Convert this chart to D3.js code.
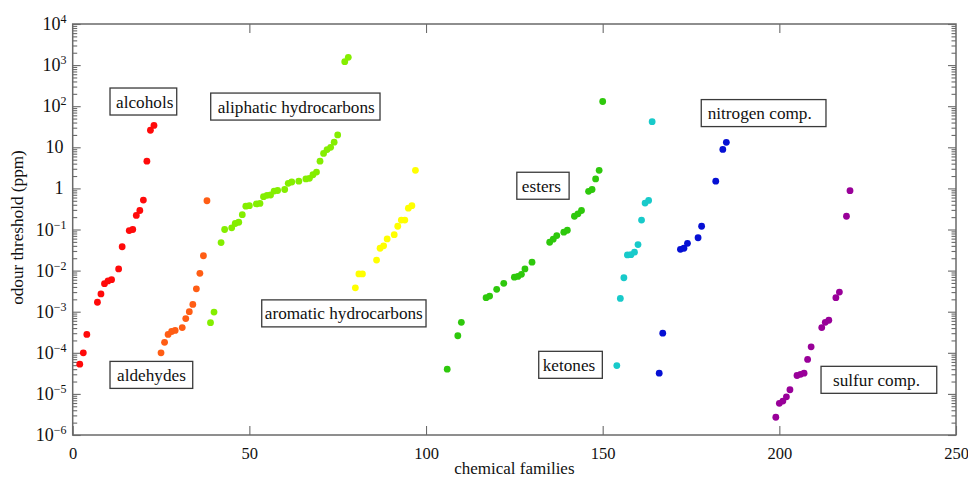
<!DOCTYPE html>
<html><head><meta charset="utf-8">
<script src="https://cdn.jsdelivr.net/npm/d3@7"></script>
<style>
body{margin:0;background:#fff}
svg{display:block}
text{font-family:"Liberation Serif","Times New Roman",Times,serif;fill:#111}
</style>
</head><body>
<svg id="chart" width="968" height="479"></svg>
<script>
// ---- data: [chemical family index, odour threshold (ppm)] ----
const alcohols = [[2,5.3e-5],[3,1.0e-4],[4,2.8e-4],[7,1.7e-3],[8,2.7e-3],[9,4.8e-3],[10,5.6e-3],[11,6.0e-3],[13,1.1e-2],[14,3.8e-2],[16,0.094],[17,0.10],[18,0.22],[19,0.29],[20,0.52],[21,4.6],[22,26],[23,34]];
const aldehydes = [[25,1.0e-4],[26,1.8e-4],[27,2.8e-4],[28,3.3e-4],[29,3.5e-4],[31,4.1e-4],[32,6.8e-4],[33,1.0e-3],[34,1.5e-3],[35,3.6e-3],[36,8.6e-3],[37,2.3e-2],[38,0.50]];
const aliphatic = [[39,5.4e-4],[40,9.8e-4],[42,0.048],[43,0.10],[45,0.11],[46,0.14],[47,0.15],[48,0.23],[49,0.37],[50,0.38],[52,0.42],[53,0.43],[54,0.63],[55,0.68],[56,0.69],[57,0.86],[58,0.89],[60,0.94],[61,1.33],[62,1.43],[64,1.5],[66,1.7],[67,1.76],[68,2.15],[69,2.5],[70,4.6],[71,7.1],[72,8.8],[73,10],[74,13.3],[75,20],[77,1210],[78,1550]];
const aromatic = [[80,3.8e-3],[81,8.3e-3],[82,8.3e-3],[86,0.018],[87,0.035],[88,0.040],[89,0.059],[91,0.075],[92,0.12],[93,0.17],[94,0.17],[95,0.33],[96,0.38],[97,2.75]];
const esters = [[106,4.0e-5],[109,2.6e-4],[110,5.5e-4],[117,2.2e-3],[118,2.4e-3],[120,3.5e-3],[122,4.9e-3],[125,6.9e-3],[126,7.2e-3],[127,8.1e-3],[128,0.011],[130,0.016],[135,0.049],[136,0.058],[137,0.071],[139,0.086],[140,0.096],[142,0.21],[143,0.24],[144,0.29],[146,0.85],[147,0.94],[148,1.7],[149,2.75],[150,130]];
const ketones = [[154,4.9e-5],[155,2.1e-3],[156,6.7e-3],[157,0.024],[158,0.0244],[159,0.028],[160,0.043],[161,0.17],[162,0.44],[163,0.51],[164,42]];
const nitrogen = [[166,3.2e-5],[167,3.0e-4],[172,0.033],[173,0.035],[174,0.046],[177,0.063],[178,0.12],[182,1.5],[184,8.9],[185,13.2]];
const sulfur = [[199,2.7e-6],[200,5.9e-6],[201,6.7e-6],[202,8.5e-6],[203,1.26e-5],[205,2.8e-5],[206,3.0e-5],[207,3.2e-5],[208,6.9e-5],[209,1.4e-4],[212,4.1e-4],[213,5.5e-4],[214,6.2e-4],[216,2.2e-3],[217,3.0e-3],[219,0.21],[220,0.88]];

const familyNames = ["alcohols","aldehydes","aliphatic hydrocarbons","aromatic hydrocarbons","esters","ketones","nitrogen comp.","sulfur comp."];
const familySeries = [alcohols, aldehydes, aliphatic, aromatic, esters, ketones, nitrogen, sulfur];
const familyColors = ["#ff0a0a","#ff5d14","#84ee00","#ffff00","#2ec80c","#18caca","#0610d4","#990099"];

// annotation boxes, in data space: text centre x, centre y, box x0, box x1
const labelTextX = [20.38,22.3,63.26,76.73,132.66,140.47,194.45,227.5];
const labelY     = [130,2.9e-5,98,9.1e-4,1.16,5.1e-5,68,2.2e-5];
const labelBoxX0 = [10.56,10.56,39.06,53.5,125.7,131.9,177.9,211.8];
const labelBoxX1 = [29.44,33.97,86.98,100.0,140.5,149.9,213.2,244.55];

const xTickValues = [0,50,100,150,200,250];
const yTickExponents = [-6,-5,-4,-3,-2,-1,0,1,2,3,4];
const xTitle = "chemical families";
const yTitle = "odour threshold (ppm)";

// ---- drawing ----
const svg = d3.select("#chart");
const L = 72.7, R = 956, T = 24, B = 435;
const x = d3.scaleLinear().domain([0,250]).range([L,R]);
const y = d3.scaleLog().domain([1e-6,1e4]).range([B,T]);
const axisColor = "#6a6a6a";

const majorVals = yTickExponents.map(e => Math.pow(10,e));
const minorVals = [];
yTickExponents.slice(0,-1).forEach(e => { for (let k=2;k<=9;k++) minorVals.push(k*Math.pow(10,e)); });

function styleAxis(g){
  g.select(".domain").remove();
  g.selectAll("line").attr("stroke",axisColor).attr("stroke-width",1.1);
}

// frame
svg.append("rect").attr("x",L).attr("y",T).attr("width",R-L).attr("height",B-T)
  .attr("fill","none").attr("stroke",axisColor).attr("stroke-width",1.5);

// x axes
const xb = svg.append("g").attr("transform",`translate(0,${B})`)
  .call(d3.axisBottom(x).tickValues(xTickValues).tickSize(-9).tickPadding(12).tickFormat(d3.format("d")));
styleAxis(xb);
xb.selectAll("text").attr("font-size",16.5).attr("fill","#111")
  .attr("font-family",'"Liberation Serif","Times New Roman",serif');
const xt = svg.append("g").attr("transform",`translate(0,${T})`)
  .call(d3.axisTop(x).tickValues(xTickValues.slice(1,-1)).tickSize(-9).tickFormat(""));
styleAxis(xt);

// y axes (major + minor, both sides, inward)
[[d3.axisLeft, L],[d3.axisRight, R]].forEach(([ax,pos]) => {
  const gM = svg.append("g").attr("transform",`translate(${pos},0)`)
    .call(ax(y).tickValues(majorVals).tickSize(-8).tickFormat(""));
  styleAxis(gM);
  const gm = svg.append("g").attr("transform",`translate(${pos},0)`)
    .call(ax(y).tickValues(minorVals).tickSize(-4.5).tickFormat(""));
  styleAxis(gm);
});

// y tick labels with superscripts
const yl = svg.append("g");
yTickExponents.forEach(e => {
  const ty = y(Math.pow(10,e));
  const t = yl.append("text").attr("text-anchor","end").attr("font-size",18)
    .attr("y", ty + 6);
  if (e === 0) { t.attr("x",63.5).text("1"); }
  else if (e === 1) { t.attr("x",63.5).text("10"); }
  else {
    t.attr("x",66.5);
    t.append("tspan").text("10");
    t.append("tspan").attr("font-size",12).attr("dy",-7).text(e < 0 ? "\u2212" + Math.abs(e) : String(e));
  }
});

// titles
svg.append("text").attr("x",(L+R)/2).attr("y",474).attr("text-anchor","middle")
  .attr("font-size",17).text(xTitle);
svg.append("text").attr("transform",`translate(23,${(T+B)/2 - 2}) rotate(-90)`)
  .attr("text-anchor","middle").attr("font-size",17.2).text(yTitle);

// points
const pts = svg.append("g");
familySeries.forEach((series,i) => {
  pts.selectAll(null).data(series).enter().append("circle")
    .attr("cx", d => x(d[0])).attr("cy", d => y(d[1])).attr("r",3.4)
    .attr("fill", familyColors[i]);
});

// annotation boxes
const ann = svg.append("g");
familyNames.forEach((name,i) => {
  const cy = y(labelY[i]);
  const x0 = x(labelBoxX0[i]), x1 = x(labelBoxX1[i]);
  ann.append("rect").attr("x",x0).attr("y",cy-13.5).attr("width",x1-x0).attr("height",27)
    .attr("fill","#fff").attr("stroke","#3a3a3a").attr("stroke-width",1.3);
  ann.append("text").attr("x",x(labelTextX[i])).attr("y",cy+6).attr("text-anchor","middle")
    .attr("font-size",17.2).text(name);
});
</script>
</body></html>
